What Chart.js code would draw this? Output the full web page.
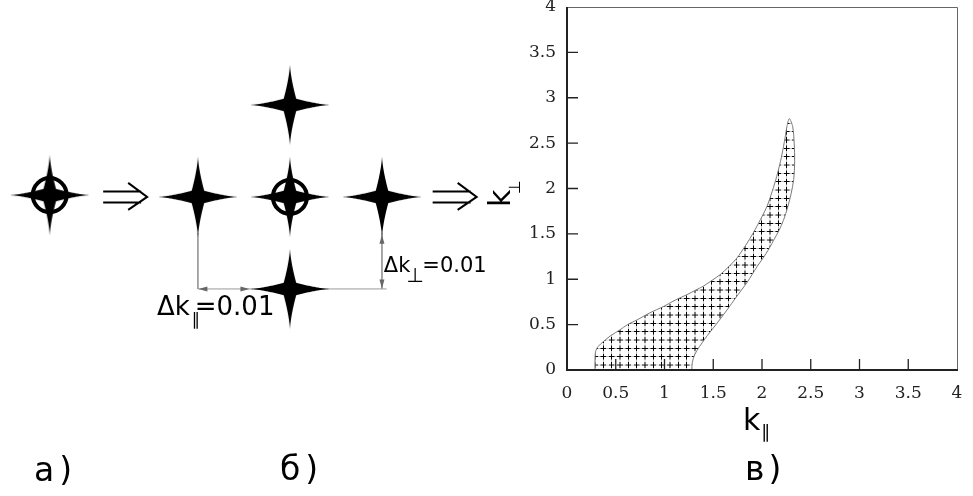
<!DOCTYPE html>
<html>
<head>
<meta charset="utf-8">
<script src="https://cdn.jsdelivr.net/npm/chart.js@4.4.0/dist/chart.umd.min.js"></script>
<style>
  html, body { margin: 0; padding: 0; background: #fff; }
  #wrap { position: relative; width: 973px; height: 496px; }
  #leftBox { position: absolute; left: 0; top: 0; width: 520px; height: 496px; }
  #rightBox { position: absolute; left: 470px; top: 0; width: 503px; height: 496px; }
</style>
</head>
<body>
<div id="wrap">
  <div id="leftBox"><canvas id="scheme"></canvas></div>
  <div id="rightBox"><canvas id="region"></canvas></div>
</div>
<script>
// а) и б): точки сетки в единицах шага (Δk = 0.01)
let starA = [{x: -2.61, y: 0.02}]
let starsB = [{x: -1, y: 0}, {x: 0, y: 0}, {x: 1, y: 0}, {x: 0, y: 1}, {x: 0, y: -1}]
let ringed = [{x: -2.61, y: 0.02}, {x: 0, y: 0}]
let implies = [-1.79, 1.79]
let dimLeft = [{x: -1, y: -0.39}, {x: -1, y: -1}]
let dimBase = [{x: -1, y: -1}, {x: 1.05, y: -1}]
let dimRight = [{x: 1, y: -0.39}, {x: 1, y: -1}]

// в): граница области (k∥, k⊥), обход от левого нижнего угла через вершину
let boundaryPar  = [0.287, 0.287, 0.292, 0.32, 0.37, 0.45, 0.54, 0.62, 0.715, 0.85, 0.99, 1.11, 1.23, 1.32, 1.40, 1.49,
                    1.57, 1.66, 1.74, 1.83, 1.91, 1.985, 2.05, 2.105, 2.15, 2.19, 2.22, 2.24, 2.255, 2.28,
                    2.315, 2.33, 2.335, 2.325, 2.30, 2.265, 2.22, 2.175, 2.12, 2.04, 1.95, 1.85,
                    1.74, 1.64, 1.535, 1.44, 1.36, 1.31, 1.285, 1.28]
let boundaryPerp = [0, 0.10, 0.20, 0.26, 0.31, 0.38, 0.44, 0.50, 0.55, 0.63, 0.70, 0.77, 0.83, 0.88, 0.925, 0.99,
                    1.05, 1.14, 1.23, 1.37, 1.51, 1.66, 1.80, 1.97, 2.13, 2.30, 2.46, 2.58, 2.68, 2.77,
                    2.68, 2.50, 2.30, 2.10, 1.95, 1.80, 1.65, 1.54, 1.43, 1.28, 1.14, 0.97,
                    0.81, 0.66, 0.51, 0.38, 0.26, 0.17, 0.08, 0]
let tickValues = [0, 0.5, 1, 1.5, 2, 2.5, 3, 3.5, 4]
let tickLabels = ['0', '0.5', '1', '1.5', '2', '2.5', '3', '3.5', '4']
let innerTicks = [0.5, 1, 1.5, 2, 2.5, 3, 3.5]

function makeStar() {
  const c = document.createElement('canvas')
  c.width = 90; c.height = 90
  const g = c.getContext('2d')
  g.translate(45, 45)
  g.fillStyle = '#000'
  const R = 41, w0 = 8
  for (let k = 0; k < 4; k++) {
    g.save()
    g.rotate(k * Math.PI / 2)
    g.beginPath()
    for (let t = 0; t <= R; t++) g.lineTo(t, -w0 * Math.pow(1 - t / R, 1.5))
    for (let t = R; t >= 0; t--) g.lineTo(t, w0 * Math.pow(1 - t / R, 1.5))
    g.closePath()
    g.fill()
    g.restore()
  }
  g.beginPath()
  g.arc(0, 0, w0, 0, Math.PI * 2)
  g.fill()
  return c
}

function head(ctx, px, py, dx, dy) {
  const L = 9, W = 2.5
  ctx.beginPath()
  ctx.moveTo(px, py)
  ctx.lineTo(px - dx * L - dy * W, py - dy * L + dx * W)
  ctx.lineTo(px - dx * L + dy * W, py - dy * L - dx * W)
  ctx.closePath()
  ctx.fill()
}

const schemeDecor = {
  id: 'schemeDecor',
  afterDatasetsDraw(chart) {
    const {ctx, scales: {x, y}} = chart
    ctx.save()
    // ⇒
    ctx.strokeStyle = '#000'
    ctx.lineWidth = 2
    implies.forEach(v => {
      const cx = x.getPixelForValue(v), cy = y.getPixelForValue(0)
      ctx.beginPath()
      ctx.moveTo(cx - 22, cy - 5.5); ctx.lineTo(cx + 16, cy - 5.5)
      ctx.moveTo(cx - 22, cy + 5.5); ctx.lineTo(cx + 16, cy + 5.5)
      ctx.moveTo(cx + 3, cy - 14); ctx.lineTo(cx + 22, cy); ctx.lineTo(cx + 3, cy + 13)
      ctx.stroke()
    })
    // стрелки размеров
    ctx.fillStyle = '#666'
    const yb = y.getPixelForValue(-1)
    head(ctx, x.getPixelForValue(-1) + 0.5, yb, -1, 0)
    head(ctx, x.getPixelForValue(-0.44), yb, 1, 0)
    const xr = x.getPixelForValue(1)
    head(ctx, xr, y.getPixelForValue(-0.41), 0, -1)
    head(ctx, xr, yb - 0.5, 0, 1)

    ctx.fillStyle = '#000'
    ctx.textAlign = 'left'
    ctx.textBaseline = 'alphabetic'
    // Δk∥=0.01
    let px = x.getPixelForValue(-1.445), py = y.getPixelForValue(-1.285)
    ctx.font = '26px "DejaVu Sans"'
    let w = ctx.measureText('Δk').width
    ctx.fillText('Δk', px, py)
    ctx.fillText('=0.01', px + w + 5, py)
    ctx.font = '17px "DejaVu Sans"'
    ctx.fillText('∥', px + w + 2, py + 10)
    // Δk⊥=0.01
    px = x.getPixelForValue(1.02); py = y.getPixelForValue(-0.815)
    ctx.font = '21px "DejaVu Sans"'
    w = ctx.measureText('Δk').width
    ctx.fillText('Δk', px, py)
    ctx.fillText('=0.01', px + w + 12, py)
    ctx.font = '20px "DejaVu Sans"'
    ctx.fillText('⊥', px + w - 4, py + 10)
    // подписи панелей
    ctx.font = '33px "DejaVu Sans"'
    ctx.letterSpacing = '5px'
    ctx.fillText('а)', 34, 481)
    ctx.fillText('б)', 280, 480)
    ctx.restore()
  }
}

const star = makeStar()

new Chart(document.getElementById('scheme'), {
  type: 'scatter',
  data: {
    datasets: [
      { data: ringed, pointStyle: 'circle', pointRadius: 17, borderWidth: 4, borderColor: '#000', backgroundColor: 'rgba(0,0,0,0)' },
      { data: starA.concat(starsB), pointStyle: star, pointRadius: 5 },
      { data: dimLeft, showLine: true, borderColor: '#9a9a9a', borderWidth: 1, pointRadius: 0 },
      { data: dimBase, showLine: true, borderColor: '#9a9a9a', borderWidth: 1, pointRadius: 0 },
      { data: dimRight, showLine: true, borderColor: '#9a9a9a', borderWidth: 1, pointRadius: 0 }
    ]
  },
  options: {
    responsive: true,
    maintainAspectRatio: false,
    animation: false,
    events: [],
    layout: { padding: 0, autoPadding: false },
    scales: {
      x: { type: 'linear', display: false, min: -3.15, max: 2.5 },
      y: { type: 'linear', display: false, min: -3.25, max: 2.14 }
    },
    plugins: { legend: { display: false }, tooltip: { enabled: false } }
  },
  plugins: [schemeDecor]
})

// штриховка: сетка с крестиками
const tile = document.createElement('canvas')
tile.width = 25; tile.height = 25
const tg = tile.getContext('2d')
tg.fillStyle = '#fff'; tg.fillRect(0, 0, 25, 25)
tg.fillStyle = '#a8a8a8'; tg.fillRect(11.5, 0, 2, 25); tg.fillRect(0, 11.5, 25, 2)
tg.fillStyle = '#000'; tg.fillRect(11, 4, 3, 17); tg.fillRect(4, 11, 17, 3)
const regionCanvas = document.getElementById('region')
const hatch = regionCanvas.getContext('2d').createPattern(tile, 'repeat')
hatch.setTransform(new DOMMatrix([1 / 3, 0, 0, 1 / 3, -4.167, 2.5]))

const frame = {
  id: 'frame',
  afterDraw(chart) {
    const {ctx, chartArea: a, scales: {x, y}} = chart
    ctx.save()
    ctx.strokeStyle = '#666'
    ctx.lineWidth = 1
    ctx.beginPath()
    ctx.moveTo(a.left, a.top + 0.5); ctx.lineTo(a.right + 0.5, a.top + 0.5); ctx.lineTo(a.right + 0.5, a.bottom)
    ctx.stroke()
    ctx.strokeStyle = '#222'
    ctx.lineWidth = 2
    ctx.beginPath()
    ctx.moveTo(a.left, a.top); ctx.lineTo(a.left, a.bottom); ctx.lineTo(a.right + 1, a.bottom)
    ctx.stroke()
    ctx.lineWidth = 1.3
    innerTicks.forEach(v => {
      const px = x.getPixelForValue(v), py = y.getPixelForValue(v)
      ctx.beginPath()
      ctx.moveTo(px, a.bottom); ctx.lineTo(px, a.bottom - 11)
      ctx.moveTo(a.left, py); ctx.lineTo(a.left + 11, py)
      ctx.stroke()
    })
    // подписи осей
    ctx.fillStyle = '#000'
    ctx.textAlign = 'left'
    ctx.textBaseline = 'alphabetic'
    const cx = (a.left + a.right) / 2
    ctx.font = '30px "DejaVu Sans"'
    ctx.fillText('k', cx - 19, a.bottom + 60)
    ctx.font = '18px "DejaVu Sans"'
    ctx.fillText('∥', cx - 1, a.bottom + 68)
    ctx.save()
    ctx.translate(a.left - 57, 207)
    ctx.rotate(-Math.PI / 2)
    ctx.font = '30px "DejaVu Sans"'
    ctx.fillText('k', 0, 0)
    ctx.font = '16px "DejaVu Sans"'
    ctx.fillText('⊥', 13, 10)
    ctx.restore()
    ctx.font = '33px "DejaVu Sans"'
    ctx.letterSpacing = '4px'
    ctx.fillText('в)', cx - 17, 480)
    ctx.restore()
  }
}

const tickFont = { family: 'DejaVu Serif', size: 17 }

new Chart(regionCanvas, {
  type: 'scatter',
  data: {
    datasets: [{
      data: boundaryPar.map((v, i) => ({ x: v, y: boundaryPerp[i] })),
      showLine: true,
      fill: 'shape',
      backgroundColor: hatch,
      borderColor: '#7a7a7a',
      borderWidth: 1,
      pointRadius: 0,
      tension: 0.3
    }]
  },
  options: {
    responsive: true,
    maintainAspectRatio: false,
    animation: false,
    events: [],
    layout: { padding: { top: 7, right: 16, left: 0, bottom: 0 }, autoPadding: false },
    scales: {
      x: {
        type: 'linear', min: 0, max: 4,
        border: { display: false },
        grid: { display: false, drawTicks: false },
        afterBuildTicks: s => { s.ticks = tickValues.map(v => ({ value: v })) },
        ticks: { padding: 13, color: '#222', font: tickFont, maxRotation: 0, autoSkip: false,
                 callback: (v, i) => tickLabels[i] },
        afterFit: s => { s.height = 126; s.paddingLeft = 0; s.paddingRight = 0 }
      },
      y: {
        type: 'linear', min: 0, max: 4,
        border: { display: false },
        grid: { display: false, drawTicks: false },
        afterBuildTicks: s => { s.ticks = tickValues.map(v => ({ value: v })) },
        ticks: { padding: 11, color: '#222', font: tickFont, autoSkip: false,
                 callback: (v, i) => tickLabels[i] },
        afterFit: s => { s.width = 97; s.paddingTop = 0; s.paddingBottom = 0 }
      }
    },
    plugins: { legend: { display: false }, tooltip: { enabled: false } }
  },
  plugins: [frame]
})
</script>
</body>
</html>
